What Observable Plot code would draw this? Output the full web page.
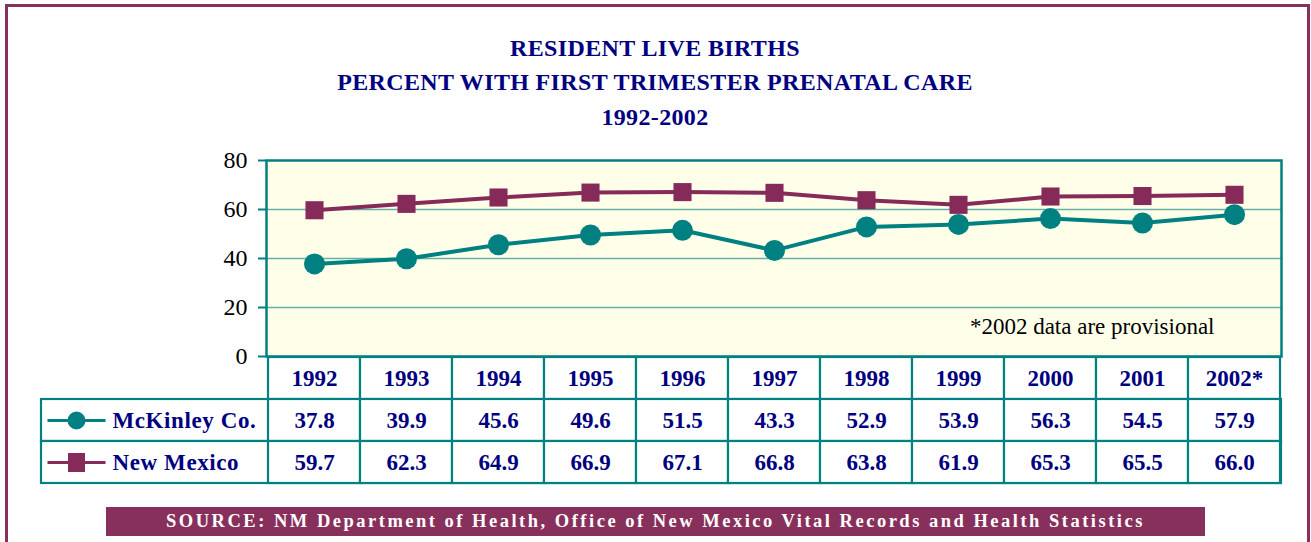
<!DOCTYPE html>
<html>
<head>
<meta charset="utf-8">
<script src="https://cdn.jsdelivr.net/npm/d3@7"></script>
<script src="https://cdn.jsdelivr.net/npm/@observablehq/plot@0.6"></script>
<style>
  html, body { margin: 0; padding: 0; background: #fff; }
  #wrap { position: relative; width: 1311px; height: 542px; overflow: hidden; font-family: "Liberation Serif", "Times New Roman", serif; }
  #border { position: absolute; left: 5px; top: 4px; width: 1299px; height: 600px; border: 3px solid #88305C; box-sizing: content-box; }
  .title { position: absolute; left: 0; width: 1310px; text-align: center; color: #000080; font-weight: bold; font-size: 24px; letter-spacing: 0.35px; }
  #source { position: absolute; left: 106px; top: 507px; width: 1099px; height: 29px; background: #88305C; color: #fff; font-weight: bold; font-size: 18.5px; line-height: 29px; text-align: center; letter-spacing: 2.5px; }
  #chart, #table { position: absolute; left: 0; }
  #chart { top: 0; }
  #table { top: 340px; }
</style>
</head>
<body>
<div id="wrap">
  <div id="border"></div>
  <div class="title" style="top:35px">RESIDENT LIVE BIRTHS</div>
  <div class="title" style="top:69px">PERCENT WITH FIRST TRIMESTER PRENATAL CARE</div>
  <div class="title" style="top:104px">1992-2002</div>
  <div id="chart"></div>
  <div id="table"></div>
  <div id="source">SOURCE: NM Department of Health, Office of New Mexico Vital Records and Health Statistics</div>
</div>
<script>
// ---- data ----
const years = ["1992","1993","1994","1995","1996","1997","1998","1999","2000","2001","2002*"];
const mckinley = [37.8, 39.9, 45.6, 49.6, 51.5, 43.3, 52.9, 53.9, 56.3, 54.5, 57.9];
const newMexico = [59.7, 62.3, 64.9, 66.9, 67.1, 66.8, 63.8, 61.9, 65.3, 65.5, 66.0];
const seriesNames = ["McKinley Co.", "New Mexico"];
const yTicks = [0, 20, 40, 60, 80];
const note = "*2002 data are provisional";

const TEAL = "#008080";
const MAROON = "#862A5A";
const NAVY = "#000080";
const GRID = "#62B0A8";
const FONT = "'Liberation Serif', 'Times New Roman', serif";

const rowsData = [
  ...years.map((y, i) => ({year: y, series: seriesNames[0], value: mckinley[i]})),
  ...years.map((y, i) => ({year: y, series: seriesNames[1], value: newMexico[i]}))
];

// ---- chart ----
const chart = Plot.plot({
  width: 1311,
  height: 360,
  marginTop: 160,
  marginBottom: 4,
  marginLeft: 266,
  marginRight: 30,
  style: {fontFamily: FONT, background: "transparent", overflow: "visible"},
  x: {type: "point", domain: years, padding: 0.5, axis: null, label: null},
  y: {domain: [0, 80], axis: null, label: null},
  marks: [
    Plot.frame({fill: "#FFFFE9", stroke: null}),
    Plot.ruleY([20, 40, 60], {stroke: GRID, strokeWidth: 1.5}),
    Plot.frame({stroke: TEAL, strokeWidth: 2.5}),
    Plot.axisY({ticks: yTicks, label: null, tickSize: 8, tickPadding: 11, stroke: TEAL, strokeWidth: 2, fill: "black", fontSize: 24, fontFamily: FONT, tickFormat: d => String(d)}),
    Plot.line(rowsData.filter(d => d.series === seriesNames[1]), {x: "year", y: "value", stroke: MAROON, strokeWidth: 4}),
    Plot.line(rowsData.filter(d => d.series === seriesNames[0]), {x: "year", y: "value", stroke: TEAL, strokeWidth: 4}),
    Plot.dot(rowsData.filter(d => d.series === seriesNames[1]), {x: "year", y: "value", symbol: "square", r: 10.2, fill: MAROON, stroke: null}),
    Plot.dot(rowsData.filter(d => d.series === seriesNames[0]), {x: "year", y: "value", symbol: "circle", r: 10.5, fill: TEAL, stroke: null}),
    Plot.text([note], {frameAnchor: "bottom-right", dx: -67, dy: -30, text: d => d, textAnchor: "end", lineAnchor: "middle", fontSize: 23, fontFamily: FONT, fill: "black"})
  ]
});
document.getElementById("chart").appendChild(chart);

// ---- table ----
const legendCircle = {draw(ctx) { ctx.moveTo(-29, 0); ctx.lineTo(29, 0); ctx.moveTo(7.5, 0); ctx.arc(0, 0, 7.5, 0, 2 * Math.PI); }};
const legendSquare = {draw(ctx) { ctx.moveTo(-29, 0); ctx.lineTo(29, 0); ctx.rect(-7, -8, 14, 16); ctx.closePath(); }};

const headerRow = "hdr";
const table = Plot.plot({
  width: 1311,
  height: 150,
  marginTop: 16,
  marginBottom: 7,
  marginLeft: 41,
  marginRight: 30,
  style: {fontFamily: FONT, background: "transparent", overflow: "visible"},
  x: {type: "band", domain: years, range: [266, 1281], padding: 0, axis: null, label: null},
  y: {type: "band", domain: [headerRow, ...seriesNames], padding: 0, axis: null, label: null},
  marks: [
    Plot.cell(seriesNames, {y: d => d, fill: "white", stroke: TEAL, strokeWidth: 2.2}),
    Plot.cell(years, {x: d => d, y: () => headerRow, fill: "white", stroke: TEAL, strokeWidth: 2.2}),
    Plot.cell(rowsData, {x: "year", y: "series", fill: "white", stroke: TEAL, strokeWidth: 2.2}),
    Plot.text(years, {x: d => d, y: () => headerRow, text: d => d, fill: NAVY, fontWeight: "bold", fontSize: 23, fontFamily: FONT}),
    Plot.text(rowsData, {x: "year", y: "series", text: d => d.value.toFixed(1), fill: NAVY, fontWeight: "bold", fontSize: 23, fontFamily: FONT}),
    Plot.dot([seriesNames[0]], {y: d => d, frameAnchor: "left", dx: 35, symbol: legendCircle, fill: TEAL, stroke: TEAL, strokeWidth: 3}),
    Plot.dot([seriesNames[1]], {y: d => d, frameAnchor: "left", dx: 35, symbol: legendSquare, fill: MAROON, stroke: MAROON, strokeWidth: 3}),
    Plot.text(seriesNames, {y: d => d, text: d => d, frameAnchor: "left", dx: 71, textAnchor: "start", fill: NAVY, fontWeight: "bold", fontSize: 23, fontFamily: FONT})
  ]
});
table.querySelectorAll("text").forEach(t => { if (seriesNames.includes(t.textContent)) t.setAttribute("letter-spacing", "0.6"); });
document.getElementById("table").appendChild(table);
</script>
</body>
</html>
